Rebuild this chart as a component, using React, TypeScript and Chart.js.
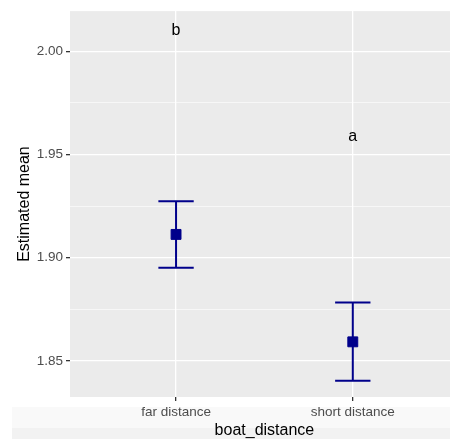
import { useEffect, useRef } from 'react';
import { Chart, registerables } from 'chart.js';

Chart.register(...registerables);

const categories = ['far distance', 'short distance'];
const means = [1.9113, 1.8593];
const lower = [1.8952, 1.8405];
const upper = [1.9273, 1.8784];
const letters = ['b', 'a'];
const letterY = [2.0102, 1.9587];

const yTicks = [1.85, 1.875, 1.9, 1.925, 1.95, 1.975, 2.0];
const yMajor = [1.85, 1.9, 1.95, 2.0];
const Y_MIN = 1.8326;
const Y_MAX = 2.0194;
const X_MIN = -0.6;
const X_MAX = 1.55;
const X_TITLE = 'boat_distance';

const FONT = '"Liberation Sans", Arial, Helvetica, sans-serif';
const DARKBLUE = '#00008B';

const isMajor = (v: number) => yMajor.some((m) => Math.abs(m - v) < 1e-6);

const decorPlugin = {
  id: 'decor',
  beforeDraw(chart: any) {
    const { ctx, chartArea, width, height } = chart;
    ctx.save();
    ctx.fillStyle = '#ffffff';
    ctx.fillRect(0, 0, width, height);
    ctx.fillStyle = '#f9f9f9';
    ctx.fillRect(12, 407, width - 12, 21);
    ctx.fillStyle = '#f2f2f2';
    ctx.fillRect(12, 428, width - 12, 11);
    ctx.fillStyle = '#EBEBEB';
    ctx.fillRect(chartArea.left, chartArea.top, chartArea.right - chartArea.left, chartArea.bottom - chartArea.top);
    ctx.restore();
  },
  beforeDatasetsDraw(chart: any) {
    const { ctx } = chart;
    const xs = chart.scales.x;
    const ys = chart.scales.y;
    ctx.save();
    ctx.strokeStyle = DARKBLUE;
    ctx.lineWidth = 2;
    for (let i = 0; i < categories.length; i++) {
      const x = xs.getPixelForValue(i);
      const xl = xs.getPixelForValue(i - 0.1);
      const xr = xs.getPixelForValue(i + 0.1);
      const yl = ys.getPixelForValue(lower[i]);
      const yu = ys.getPixelForValue(upper[i]);
      ctx.beginPath();
      ctx.moveTo(x, yl);
      ctx.lineTo(x, yu);
      ctx.moveTo(xl, yl);
      ctx.lineTo(xr, yl);
      ctx.moveTo(xl, yu);
      ctx.lineTo(xr, yu);
      ctx.stroke();
    }
    ctx.restore();
  },
  afterDatasetsDraw(chart: any) {
    const { ctx } = chart;
    const xs = chart.scales.x;
    const ys = chart.scales.y;
    ctx.save();
    ctx.fillStyle = '#000000';
    ctx.font = `16px ${FONT}`;
    ctx.textAlign = 'center';
    ctx.textBaseline = 'middle';
    for (let i = 0; i < categories.length; i++) {
      ctx.fillText(letters[i], xs.getPixelForValue(i), ys.getPixelForValue(letterY[i]));
    }
    ctx.restore();
  },
  afterDraw(chart: any) {
    const { ctx } = chart;
    const xs = chart.scales.x;
    ctx.save();
    ctx.fillStyle = '#000000';
    ctx.font = `16px ${FONT}`;
    ctx.textAlign = 'center';
    ctx.textBaseline = 'middle';
    const mid = (categories.length - 1) / 2;
    ctx.fillText(X_TITLE, xs.getPixelForValue(mid), xs.bottom - 8.5);
    ctx.restore();
  },
};

export default function App() {
  const ref = useRef<HTMLCanvasElement | null>(null);

  useEffect(() => {
    if (!ref.current) return;
    const chart = new Chart(ref.current, {
      type: 'scatter',
      data: {
        datasets: [
          {
            data: categories.map((_, i) => ({ x: i, y: means[i] })),
            pointStyle: 'rect',
            pointRadius: 7,
            pointBorderWidth: 1,
            backgroundColor: DARKBLUE,
            borderColor: DARKBLUE,
          },
        ],
      },
      options: {
        animation: false,
        responsive: false,
        maintainAspectRatio: false,
        layout: { autoPadding: false, padding: { top: 11, right: 0, bottom: 0, left: 0 } },
        plugins: {
          legend: { display: false },
          tooltip: { enabled: false },
        },
        scales: {
          x: {
            type: 'linear',
            min: X_MIN,
            max: X_MAX,
            afterBuildTicks: (s: any) => {
              s.ticks = categories.map((_, i) => ({ value: i }));
            },
            afterFit: (s: any) => {
              s.height = 42;
              s.paddingLeft = 0;
              s.paddingRight = 0;
            },
            ticks: {
              callback: (v: any) => categories[Math.round(Number(v))] ?? '',
              color: '#4d4d4d',
              font: { family: FONT, size: 13.5 },
              padding: 3,
              maxRotation: 0,
              autoSkip: false,
            },
            grid: {
              color: '#ffffff',
              lineWidth: 1.3,
              tickColor: '#333333',
              tickLength: 4,
            },
            border: { display: false },
            title: { display: false },
          },
          y: {
            type: 'linear',
            min: Y_MIN,
            max: Y_MAX,
            afterBuildTicks: (s: any) => {
              s.ticks = yTicks.map((v) => ({ value: v }));
            },
            afterFit: (s: any) => {
              s.width = 70;
            },
            ticks: {
              callback: (v: any) => (isMajor(Number(v)) ? Number(v).toFixed(2) : ''),
              color: '#4d4d4d',
              font: { family: FONT, size: 13.5 },
              padding: 3,
              autoSkip: false,
            },
            grid: {
              color: '#ffffff',
              lineWidth: (c: any) => (c.tick && isMajor(c.tick.value) ? 1.3 : 0.6),
              tickColor: (c: any) => (c.tick && isMajor(c.tick.value) ? '#333333' : 'rgba(0,0,0,0)'),
              tickLength: 4,
            },
            border: { display: false },
            title: {
              display: true,
              text: 'Estimated mean',
              color: '#000000',
              font: { family: FONT, size: 16 },
              padding: { top: 15, bottom: 0 },
            },
          },
        },
      },
      plugins: [decorPlugin],
    });
    return () => chart.destroy();
  }, []);

  return (
    <div style={{ position: 'absolute', left: 0, top: 0, width: 450, height: 439 }}>
      <canvas ref={ref} width={450} height={439} style={{ display: 'block', width: 450, height: 439 }} />
    </div>
  );
}
